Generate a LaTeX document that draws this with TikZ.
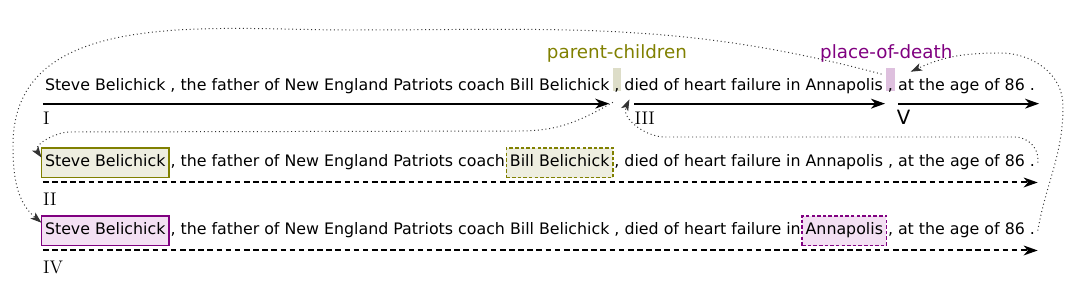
\documentclass[tikz,border=0pt]{standalone}
\usepackage{fontspec}
\newfontfamily\sentfont{DejaVu Sans}
\usetikzlibrary{arrows.meta,positioning}

\definecolor{relgreen}{RGB}{128,128,0}
\definecolor{relpurple}{RGB}{128,0,128}
\definecolor{greenfill}{RGB}{238,238,224}
\definecolor{purplefill}{RGB}{243,224,243}
\definecolor{greenmark}{RGB}{221,221,200}
\definecolor{purplemark}{RGB}{222,192,222}

\tikzset{
  word/.style={inner sep=0pt, outer sep=0pt, anchor=base west,
    text height=8.7pt, text depth=2.5pt,
    font=\sentfont\fontsize{11.25}{13}\selectfont},
  entbox/.style={word, draw, line width=1.3pt, inner xsep=2.5pt, inner ysep=5pt},
  subjgreen/.style={entbox, draw=relgreen, fill=greenfill},
  objgreen/.style={subjgreen, dash pattern=on 2.5pt off 1.5pt},
  subjpurple/.style={entbox, draw=relpurple, fill=purplefill},
  objpurple/.style={subjpurple, dash pattern=on 2.5pt off 1.5pt},
  commamark/.style={word, inner xsep=1.1pt, inner ysep=0pt,
    text height=16pt, text depth=0pt},
  relname/.style={inner sep=0pt, font=\sentfont\fontsize{13}{15}\selectfont},
  span/.style={-{Stealth[length=10pt,width=7pt,inset=3pt]}, line width=1.4pt},
  spandash/.style={span, dash pattern=on 4pt off 2.5pt},
  numeral/.style={inner sep=0pt, anchor=north west, font=\fontsize{13}{15}\selectfont},
  link/.style={dotted, line width=0.7pt, draw=black!80,
    -{Stealth[length=8pt,width=5.5pt,inset=2pt]}}
}

\begin{document}
\begin{tikzpicture}[x=0.025cm, y=0.025cm]
  \useasboundingbox (0,0) rectangle (1080,296);

  % sentence I
  \node[word] (r1a) at (45,205)
    {Steve Belichick , the father of New England Patriots coach Bill Belichick};
  \node[commamark, fill=greenmark, base right=2.48pt of r1a] (r1c1) {,};
  \node[word, base right=2.48pt of r1c1] (r1b) {died of heart failure in Annapolis};
  \node[commamark, fill=purplemark, base right=2.48pt of r1b] (r1c2) {,};
  \node[word, base right=2.48pt of r1c2] (r1c) {at the age of 86 .};

  \node[relname, text=relgreen, above=4pt of r1c1] (rel1) {parent-children};
  \node[relname, text=relpurple, above=4pt of r1c2, xshift=-3pt] (rel2) {place-of-death};

  \coordinate (a1s) at ([yshift=-9pt,xshift=-1.5pt]r1a.base west);
  \coordinate (a3s) at ([yshift=-9pt,xshift=7pt]r1b.base west);
  \coordinate (a5s) at ([yshift=-9pt]r1c.base west);
  \draw[span] (a1s) -- ([yshift=-9pt]r1a.base east);
  \draw[span] (a3s) -- ([yshift=-9pt,xshift=1.5pt]r1b.base east);
  \draw[span] (a5s) -- ([yshift=-9pt,xshift=3pt]r1c.base east);
  \node[numeral, below right=6pt and 0pt of a1s] (n1) {I};
  \node[numeral, below right=6pt and 0pt of a3s] (n3) {III};
  \node[numeral, font=\sentfont\fontsize{14}{16}\selectfont,
    below right=4.6pt and -1pt of a5s] (n5) {V};

  % sentence II
  \node[subjgreen] (r2a) at (41.5,129) {Steve Belichick};
  \node[word, base right=1.08pt of r2a] (r2b) {, the father of New England Patriots coach};
  \node[objgreen, base right=1.08pt of r2b] (r2c) {Bill Belichick};
  \node[word, base right=1.08pt of r2c] (r2d)
    {, died of heart failure in Annapolis , at the age of 86 .};
  \coordinate (a2s) at ([yshift=-11pt,xshift=1pt]r2a.base west);
  \draw[spandash] (a2s) -- ([yshift=-11pt,xshift=2pt]r2d.base east);
  \node[numeral, below right=7pt and 0pt of a2s] (n2) {II};

  % sentence IV
  \node[subjpurple] (r4a) at (41.5,61) {Steve Belichick};
  \node[word, base right=1.08pt of r4a] (r4b)
    {, the father of New England Patriots coach Bill Belichick , died of heart failure in};
  \node[objpurple, base right=1.08pt of r4b] (r4c) {Annapolis};
  \node[word, base right=1.08pt of r4c] (r4d) {, at the age of 86 .};
  \coordinate (a4s) at ([yshift=-11pt,xshift=1pt]r4a.base west);
  \draw[spandash] (a4s) -- ([yshift=-11pt,xshift=2pt]r4d.base east);
  \node[numeral, below right=7pt and 0pt of a4s] (n4) {IV};

  % links between the spans
  \draw[link] ([xshift=-3.5pt,yshift=-4pt]r1c2.north west)
    to[out=165,in=0] (350,266) to[out=180,in=90] (13,151)
    to[out=-90,in=140] ([yshift=-5pt]r4a.north west);
  \draw[link] ([yshift=-8pt]r1c1.south west)
    to[out=-150,in=0] (520,165) -- (70,164)
    to[out=180,in=125] ([yshift=-7pt]r2a.north west);
  \draw[link] ([xshift=2pt]r2d.east)
    to[out=80,in=0] (1015,159) -- (665,159)
    to[out=180,in=-115] ([xshift=3.5pt,yshift=-6pt]r1b.base west);
  \draw[link] ([xshift=2pt]r4d.east)
    to[out=80,in=-90] (1063,190) to[out=90,in=0] (1000,243)
    to[out=180,in=25] ([xshift=9pt,yshift=5pt]r1c.north west);
\end{tikzpicture}
\end{document}
